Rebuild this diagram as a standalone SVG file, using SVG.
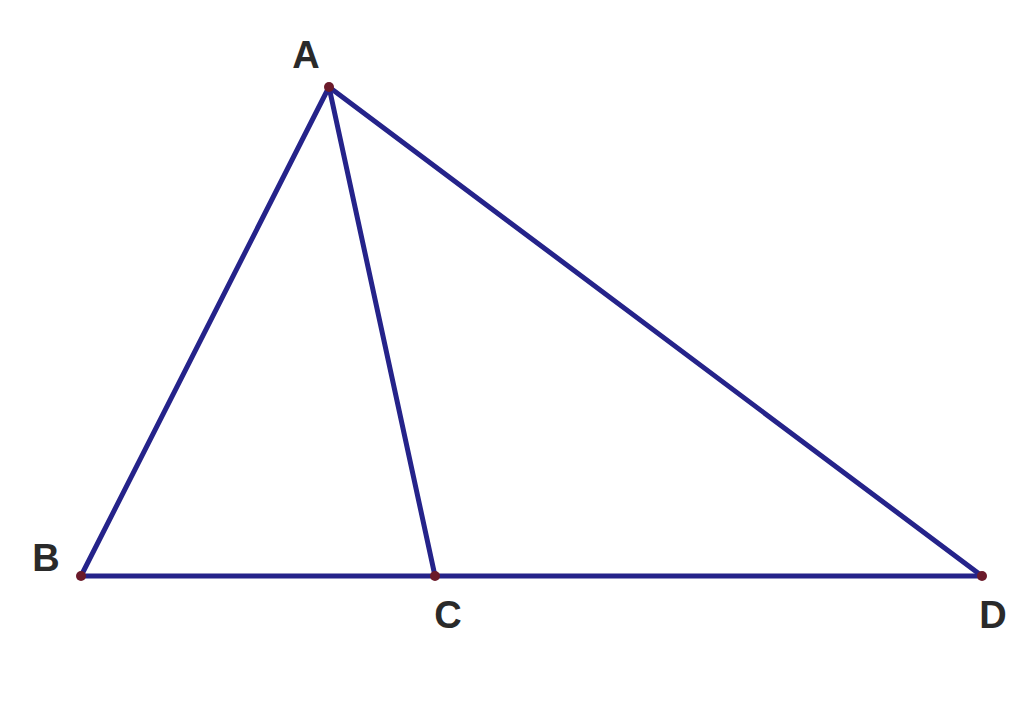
<svg xmlns="http://www.w3.org/2000/svg" width="1024" height="719" viewBox="0 0 1024 719">
<style>
.seg{stroke:#25238a;stroke-width:5;stroke-linecap:round;fill:none}
.pt{fill:#6b1a2a}
.lbl{font-family:"Liberation Sans",Arial,sans-serif;font-weight:bold;font-size:38px;fill:#2a2a2a;text-anchor:middle}
</style>
<rect width="1024" height="719" fill="#ffffff"/>
<g id="connectors">
<line class="seg" x1="329" y1="87" x2="81" y2="576"/>
<line class="seg" x1="329" y1="87" x2="435" y2="576"/>
<line class="seg" x1="329" y1="87" x2="982" y2="576"/>
<line class="seg" x1="81" y1="576" x2="982" y2="576"/>
</g>
<g id="A"><circle class="pt" cx="329" cy="87" r="5"/><text class="lbl" x="306" y="68">A</text></g>
<g id="B"><circle class="pt" cx="81" cy="576" r="5"/><text class="lbl" x="46" y="571">B</text></g>
<g id="C"><circle class="pt" cx="435" cy="576" r="5"/><text class="lbl" x="448" y="628">C</text></g>
<g id="D"><circle class="pt" cx="982" cy="576" r="5"/><text class="lbl" x="993" y="628">D</text></g>
</svg>
